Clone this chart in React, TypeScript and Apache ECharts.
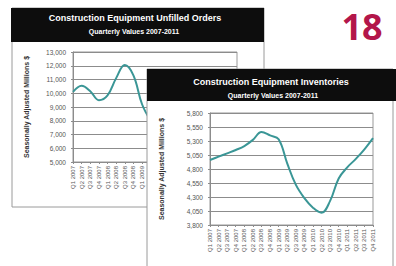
import React, { useEffect, useRef } from "react";
import * as echarts from "echarts";

const quarters = [
  "Q1 2007", "Q2 2007", "Q3 2007", "Q4 2007",
  "Q1 2008", "Q2 2008", "Q3 2008", "Q4 2008",
  "Q1 2009", "Q2 2009", "Q3 2009", "Q4 2009",
  "Q1 2010", "Q2 2010", "Q3 2010", "Q4 2010",
  "Q1 2011", "Q2 2011", "Q3 2011", "Q4 2011",
];

const unfilledOrders = [
  10100, 10550, 10150, 9500, 9850, 11100, 12050, 11300, 9200, 8000,
  7200, 6700, 6500, 6600, 7000, 7500, 8000, 8600, 9100, 9600,
];

const inventories = [
  4960, 5020, 5080, 5140, 5210, 5320, 5460, 5400, 5330, 4900,
  4520, 4280, 4110, 4020, 4230, 4630, 4830, 4980, 5150, 5350,
];

const inventoryTicks = [3800, 4050, 4300, 4550, 4800, 5050, 5300, 5550, 5800];

const FONT = "Liberation Sans";
const LINE = "#3a9696";
const GRIDC = "#8c8c8c";

const fmt = (v: number) => Number(v).toLocaleString("en-US");

export default function App() {
  const ref = useRef<HTMLDivElement>(null);
  useEffect(() => {
    const chart = echarts.init(ref.current!, null, { renderer: "svg" });

    const xAxisBase = (gridIndex: number, z: number) => ({
      type: "category",
      gridIndex,
      z,
      data: quarters,
      boundaryGap: false,
      axisLine: { lineStyle: { color: GRIDC } },
      axisTick: { show: true, length: 2, interval: 0, lineStyle: { color: GRIDC } },
      axisLabel: {
        interval: 0,
        rotate: 90,
        fontSize: 6,
        margin: 4,
        color: "#555",
        fontFamily: FONT,
      },
      splitLine: { show: false },
    });

    chart.setOption({
      animation: false,
      textStyle: { fontFamily: FONT },
      graphic: [
        // back panel
        { type: "rect", z: 0, shape: { x: 12, y: 8, width: 252, height: 199 }, style: { fill: "#fff", stroke: "#9a9a9a", lineWidth: 1 } },
        { type: "rect", z: 1, shape: { x: 11, y: 8, width: 253, height: 34 }, style: { fill: "#0d0d0d" } },
        { type: "text", z: 2, x: 135, y: 18, style: { text: "Construction Equipment Unfilled Orders", fill: "#fff", font: `bold 9px "${FONT}"`, align: "center", verticalAlign: "middle" } },
        { type: "text", z: 2, x: 134, y: 31, style: { text: "Quarterly Values 2007-2011", fill: "#fff", font: `bold 7px "${FONT}"`, align: "center", verticalAlign: "middle" } },
        // page number
        { type: "text", z: 2, x: 362, y: 26, style: { text: "18", fill: "#b3164a", font: `bold 36px "Open Sans"`, align: "center", verticalAlign: "middle" } },
        // front panel
        { type: "rect", z: 20, shape: { x: 147, y: 69, width: 246, height: 210 }, style: { fill: "#fff", stroke: "#9a9a9a", lineWidth: 1 } },
        { type: "rect", z: 21, shape: { x: 147, y: 69, width: 249, height: 32 }, style: { fill: "#0d0d0d" } },
        { type: "text", z: 22, x: 271, y: 82, style: { text: "Construction Equipment Inventories", fill: "#fff", font: `bold 9px "${FONT}"`, align: "center", verticalAlign: "middle" } },
        { type: "text", z: 22, x: 273, y: 95, style: { text: "Quarterly Values 2007-2011", fill: "#fff", font: `bold 7px "${FONT}"`, align: "center", verticalAlign: "middle" } },
      ],
      grid: [
        { left: 73, top: 52, width: 164, height: 110, show: true, borderColor: "#999", borderWidth: 1, z: 3 },
        { left: 210, top: 113, width: 163, height: 112, show: true, borderColor: "#999", borderWidth: 1, z: 30 },
      ],
      xAxis: [xAxisBase(0, 4), xAxisBase(1, 31)],
      yAxis: [
        {
          type: "value",
          gridIndex: 0,
          z: 4,
          min: 5000,
          max: 13000,
          interval: 1000,
          name: "Seasonally Adjusted Millions $",
          nameLocation: "middle",
          nameRotate: 90,
          nameGap: 43,
          nameTextStyle: { fontSize: 7, fontWeight: "bold", color: "#333", fontFamily: FONT },
          axisLine: { show: true, lineStyle: { color: GRIDC } },
          axisTick: { show: true, length: 2, lineStyle: { color: GRIDC } },
          axisLabel: { fontSize: 6.5, color: "#555", margin: 7, formatter: fmt, fontFamily: FONT },
          splitLine: { show: true, lineStyle: { color: GRIDC, width: 1 } },
        },
        {
          type: "value",
          gridIndex: 1,
          z: 31,
          min: 3800,
          max: 5800,
          name: "Seasonally Adjusted Millions $",
          nameLocation: "middle",
          nameRotate: 90,
          nameGap: 45,
          nameTextStyle: { fontSize: 7, fontWeight: "bold", color: "#333", fontFamily: FONT },
          axisLine: { show: true, lineStyle: { color: GRIDC } },
          axisTick: { show: true, length: 2, customValues: inventoryTicks, lineStyle: { color: GRIDC } },
          axisLabel: { fontSize: 6.5, color: "#555", margin: 7, formatter: fmt, customValues: inventoryTicks, fontFamily: FONT },
          splitLine: { show: true, lineStyle: { color: GRIDC, width: 1 } },
        },
      ],
      series: [
        {
          type: "line",
          xAxisIndex: 0,
          yAxisIndex: 0,
          z: 5,
          data: unfilledOrders,
          smooth: 0.4,
          showSymbol: false,
          lineStyle: { color: LINE, width: 2 },
        },
        {
          type: "line",
          xAxisIndex: 1,
          yAxisIndex: 1,
          z: 32,
          data: inventories,
          smooth: 0.4,
          showSymbol: false,
          lineStyle: { color: LINE, width: 2 },
        },
      ],
    });
    return () => chart.dispose();
  }, []);
  return (
    <div
      ref={ref}
      style={{ position: "fixed", left: 0, top: 0, width: 396, height: 266, background: "#fff" }}
    />
  );
}
